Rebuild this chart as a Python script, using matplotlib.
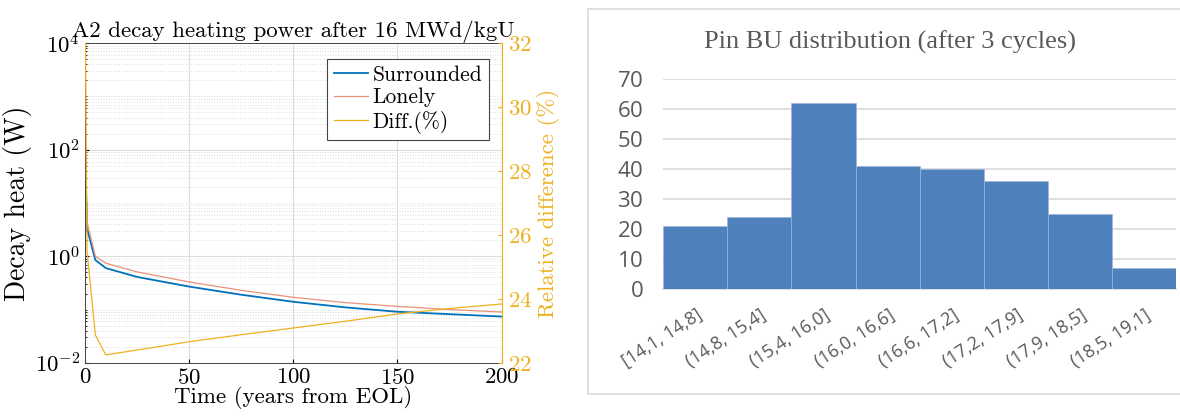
import numpy as np
import matplotlib.pyplot as plt
import matplotlib.ticker as mticker
from matplotlib.patches import Rectangle

# Left panel data
t = [0, 1, 5, 10, 25, 50, 75, 100, 125, 150, 175, 200]
surrounded = [120, 3.3, 0.85, 0.6, 0.41, 0.27, 0.19, 0.14, 0.11, 0.091, 0.082, 0.074]
lonely = [140, 4.4, 1.0, 0.74, 0.51, 0.33, 0.23, 0.17, 0.135, 0.115, 0.10, 0.09]
diff = [34.0, 25.5, 22.87, 22.25, 22.4, 22.66, 22.88, 23.09, 23.3, 23.53, 23.7, 23.84]

# Right panel data
bins = ['[14,1, 14,8]', '(14,8, 15,4]', '(15,4, 16,0]', '(16,0, 16,6]',
        '(16,6, 17,2]', '(17,2, 17,9]', '(17,9, 18,5]', '(18,5, 19,1]']
counts = [21, 24, 62, 41, 40, 36, 25, 7]

blue = '#0072BD'
orange = '#E8927A'
yellow = '#EDB120'

plt.rcParams['mathtext.fontset'] = 'cm'
plt.rcParams['font.family'] = 'serif'
plt.rcParams['font.serif'] = ['cmr10', 'DejaVu Serif']
plt.rcParams['axes.formatter.use_mathtext'] = True

fig = plt.figure(figsize=(11.8, 4.19), dpi=100)

# ---- left: decay heat ----
ax = fig.add_axes([0.072, 0.134, 0.353, 0.763])
ax.set_yscale('log')
l1, = ax.plot(t, surrounded, color=blue, lw=1.3, label='Surrounded')
l2, = ax.plot(t, lonely, color=orange, lw=0.9, label='Lonely')
ax.set_xlim(0, 200)
ax.set_ylim(1e-2, 1e4)
ax.set_yticks([1e-2, 1, 1e2, 1e4])
ax.set_yticklabels([r'$10^{-2}$', r'$10^{0}$', r'$10^{2}$', r'$10^{4}$'])
ax.yaxis.set_minor_locator(mticker.LogLocator(base=10, subs=np.arange(1, 10), numticks=20))
ax.yaxis.set_minor_formatter(mticker.NullFormatter())
ax.set_xticks([0, 50, 100, 150, 200])
ax.grid(True, which='major', color='#DDDDDD', lw=0.8)
ax.grid(True, which='minor', axis='y', color='#DDDDDD', ls=':', lw=0.7)
ax.tick_params(direction='in', labelsize=16.5, length=3, right=False, top=False)
ax.tick_params(which='minor', direction='in', length=1.5)
ax.set_xlabel('Time (years from EOL)', fontsize=16.5, labelpad=-1)
ax.set_ylabel('Decay heat (W)', fontsize=20, labelpad=2)
ax.set_title('A2 decay heating power after 16 MWd/kgU', fontsize=16.5, pad=4)
for s in ax.spines.values():
    s.set_color('#444444')
    s.set_linewidth(0.7)

ax2 = ax.twinx()
l3, = ax2.plot(t, diff, color=yellow, lw=0.9, label='Diff.(%)')
ax2.set_ylim(22, 32)
ax2.set_yticks([22, 24, 26, 28, 30, 32])
ax2.tick_params(direction='in', labelsize=16.5, colors=yellow, length=3, pad=5)
ax2.set_ylabel('Relative difference (%)', fontsize=16.5, color=yellow, labelpad=3)
ax2.spines['right'].set_color(yellow)
for s in ['top', 'left', 'bottom']:
    ax2.spines[s].set_visible(False)

leg = ax2.legend(handles=[l1, l2, l3], loc='upper right', fontsize=15.5,
                 fancybox=False, framealpha=1, edgecolor='#444444',
                 borderpad=0.3, handlelength=1.6, handletextpad=0.2,
                 labelspacing=0.15, bbox_to_anchor=(0.995, 0.985))
leg.get_frame().set_linewidth(0.8)

# ---- right: histogram-like bars ----
fig.patches.append(Rectangle((588 / 1180, 1 - 394 / 419), 0.6, 385 / 419,
                             transform=fig.transFigure, fill=False,
                             edgecolor='#D9D9D9', lw=1.2))

bx = fig.add_axes([0.562, 0.31, 0.435, 0.501])
x = np.arange(len(counts))
bx.bar(x, counts, width=1.0, color='#4F81BD', edgecolor='#9DB5DC', lw=0.5, zorder=3)
bx.set_xlim(-0.5, len(counts) - 0.5)
bx.set_ylim(0, 70)
bx.set_yticks(range(0, 71, 10))
bx.set_xticks(x)
bx.set_xticklabels(bins, rotation=33, ha='right', rotation_mode='anchor',
                   fontsize=13, color='#595959', family='Open Sans')
for lab in bx.get_yticklabels():
    lab.set_family('Open Sans')
bx.tick_params(axis='y', labelsize=16, colors='#595959', length=0, pad=14)
bx.tick_params(axis='x', length=0, pad=12)
bx.grid(True, axis='y', color='#D9D9D9', lw=1.2, zorder=0)
for s in ['top', 'right', 'left']:
    bx.spines[s].set_visible(False)
bx.spines['bottom'].set_color('#D9D9D9')
bx.spines['bottom'].set_linewidth(1.2)
fig.text(890 / 1180, 1 - 42 / 419, 'Pin BU distribution (after 3 cycles)',
         ha='center', va='center', fontsize=19, color='#595959',
         family='Liberation Serif')

fig.savefig('out.png', dpi=100)
